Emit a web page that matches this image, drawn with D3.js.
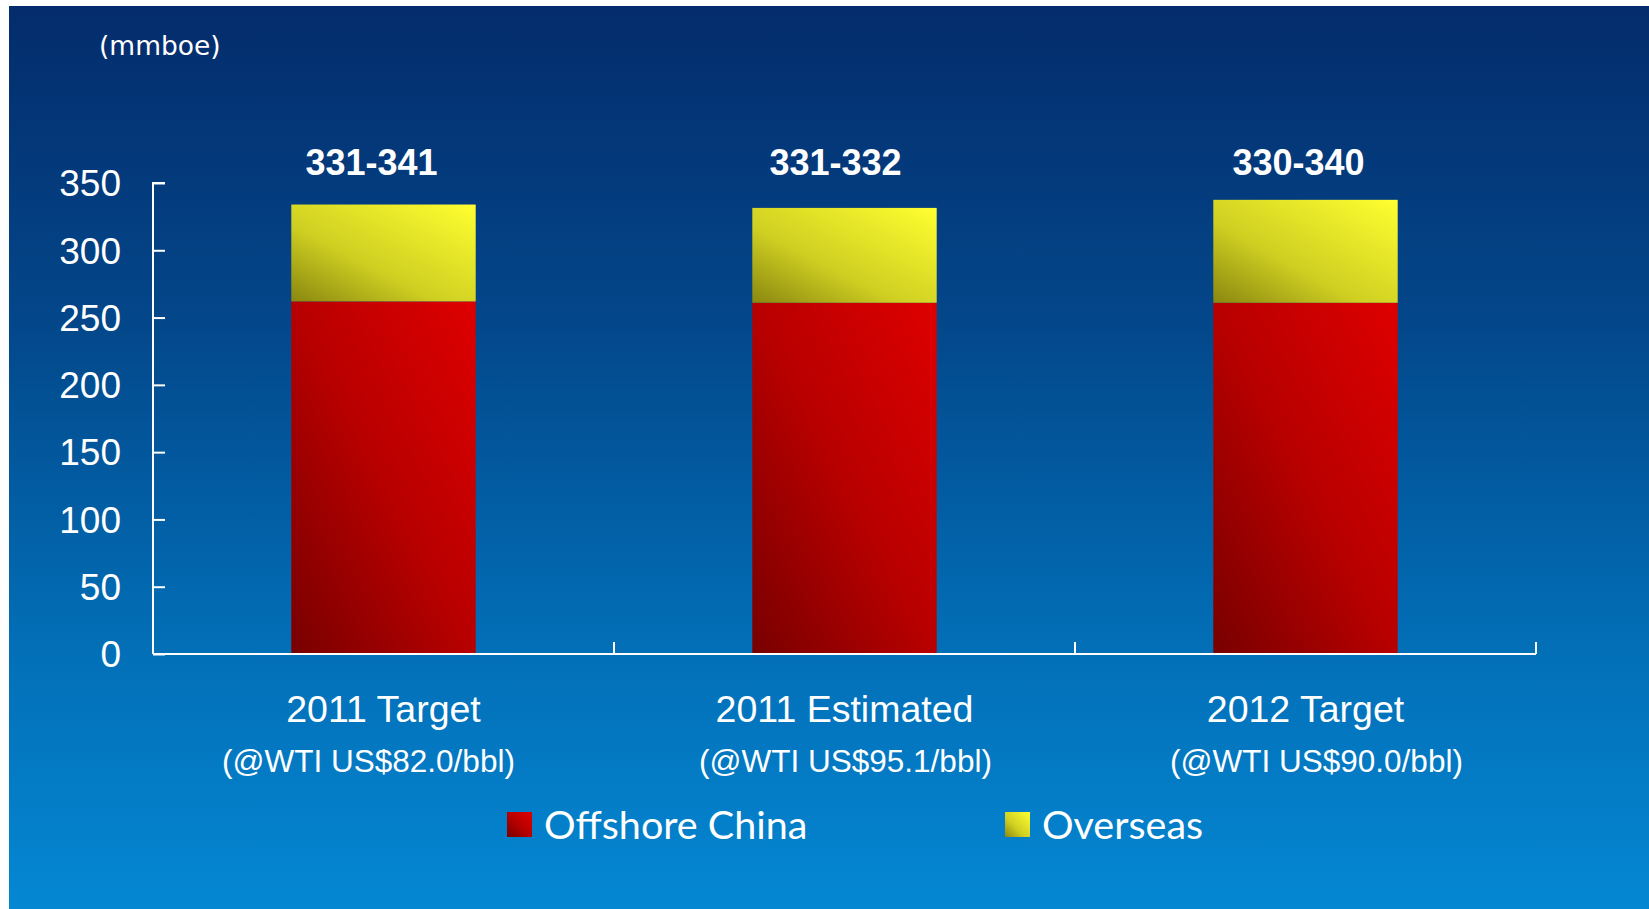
<!DOCTYPE html>
<html>
<head>
<meta charset="utf-8">
<script src="https://cdn.jsdelivr.net/npm/d3@7"></script>
<style>
  html, body { margin: 0; padding: 0; background: #ffffff; overflow: hidden; }
  svg { display: block; }
</style>
</head>
<body>
<svg id="chart" width="1649" height="909"></svg>
<script>
// ---- data ----
const categories = ["2011 Target", "2011 Estimated", "2012 Target"];
const subtitles = ["(@WTI US$82.0/bbl)", "(@WTI US$95.1/bbl)", "(@WTI US$90.0/bbl)"];
const rangeLabels = ["331-341", "331-332", "330-340"];
const offshoreChina = [262, 261, 261];
const overseas = [72, 70.5, 76.5];
const seriesNames = ["Offshore China", "Overseas"];
const yTicks = [0, 50, 100, 150, 200, 250, 300, 350];
const unitLabel = "(mmboe)";

// ---- layout ----
const W = 1649, H = 909;
const svg = d3.select("#chart");
const defs = svg.append("defs");

const bg = defs.append("linearGradient").attr("id", "bg")
  .attr("x1", 0).attr("y1", 0).attr("x2", 0).attr("y2", 1);
bg.append("stop").attr("offset", 0).attr("stop-color", "#042c6c");
bg.append("stop").attr("offset", 0.35).attr("stop-color", "#03478a");
bg.append("stop").attr("offset", 0.7).attr("stop-color", "#026eb6");
bg.append("stop").attr("offset", 1).attr("stop-color", "#0587d2");

function diag(id, stops) {
  const g = defs.append("linearGradient").attr("id", id)
    .attr("x1", 0).attr("y1", 1).attr("x2", 1).attr("y2", 0);
  stops.forEach(s => g.append("stop").attr("offset", s[0]).attr("stop-color", s[1]));
}
diag("gRed", [[0, "#780000"], [0.5, "#b80000"], [1, "#de0000"]]);
diag("gYel", [[0, "#8a870f"], [0.4, "#cfcf22"], [1, "#ffff30"]]);
const fills = ["url(#gRed)", "url(#gYel)"];

svg.append("rect").attr("x", 9).attr("y", 6).attr("width", W - 9).attr("height", H - 6)
  .attr("fill", "url(#bg)");

const x0 = 153, x1 = 1536, yBase = 654, yTop = 183;
const x = d3.scaleBand().domain(categories).range([x0, x1]).padding(0);
const y = d3.scaleLinear().domain([0, 350]).range([yBase, yTop]);
const barW = x.bandwidth() * 0.4;

// stacked data
const table = categories.map((c, i) => ({ cat: c, "Offshore China": offshoreChina[i], "Overseas": overseas[i] }));
const stack = d3.stack().keys(seriesNames)(table);

svg.append("g").selectAll("g").data(stack).join("g")
  .attr("fill", (d, i) => fills[i])
  .selectAll("rect").data(d => d).join("rect")
  .attr("x", d => x(d.data.cat) + (x.bandwidth() - barW) / 2)
  .attr("width", barW)
  .attr("y", d => y(d[1]))
  .attr("height", d => y(d[0]) - y(d[1]));

// y axis
const yAxis = d3.axisRight(y).tickValues(yTicks).tickSize(12).tickFormat("");
const gy = svg.append("g").attr("transform", `translate(${x0},0)`).call(yAxis);
gy.select(".domain").attr("stroke", "#ffffff").attr("stroke-width", 2).attr("d", `M12,${yTop}H0V${yBase}`);
gy.selectAll(".tick line").attr("stroke", "#ffffff").attr("stroke-width", 2);

svg.append("g").selectAll("text").data(yTicks).join("text")
  .attr("x", 121).attr("y", d => y(d)).attr("dy", "0.36em")
  .attr("text-anchor", "end")
  .attr("font-family", "'Liberation Sans', Arial, sans-serif")
  .attr("font-size", 37).attr("fill", "#ffffff")
  .text(d => d);

// x axis (ticks at category boundaries, pointing up)
const boundaries = categories.map(c => x(c) + x.bandwidth());
svg.append("line").attr("x1", x0).attr("x2", x1).attr("y1", yBase).attr("y2", yBase)
  .attr("stroke", "#ffffff").attr("stroke-width", 2);
svg.append("g").selectAll("line").data(boundaries).join("line")
  .attr("x1", d => d).attr("x2", d => d).attr("y1", yBase).attr("y2", yBase - 12)
  .attr("stroke", "#ffffff").attr("stroke-width", 2);

// category labels
const subDx = [-15, 1, 11];
svg.append("g").selectAll("text").data(categories).join("text")
  .attr("x", d => x(d) + x.bandwidth() / 2).attr("y", 722)
  .attr("text-anchor", "middle")
  .attr("font-family", "'Liberation Sans', Arial, sans-serif")
  .attr("font-size", 37.5).attr("fill", "#ffffff")
  .text(d => d);
svg.append("g").selectAll("text").data(subtitles).join("text")
  .attr("x", (d, i) => x(categories[i]) + x.bandwidth() / 2 + subDx[i]).attr("y", 772)
  .attr("text-anchor", "middle")
  .attr("font-family", "'Liberation Sans', Arial, sans-serif")
  .attr("font-size", 31.5).attr("fill", "#ffffff")
  .text(d => d);

// range labels
const lblDx = [-12, -9, -7];
svg.append("g").selectAll("text").data(rangeLabels).join("text")
  .attr("x", (d, i) => x(categories[i]) + x.bandwidth() / 2 + lblDx[i])
  .attr("y", y(350) - 8)
  .attr("text-anchor", "middle")
  .attr("font-family", "'Liberation Sans', Arial, sans-serif")
  .attr("font-weight", "bold")
  .attr("font-size", 36).attr("fill", "#ffffff")
  .text(d => d);

// unit label
svg.append("text").attr("x", 99).attr("y", 55)
  .attr("font-family", "'DejaVu Sans', sans-serif")
  .attr("font-size", 26.5).attr("fill", "#ffffff")
  .text(unitLabel);

// legend
const legendX = [507, 1005];
const lg = svg.append("g").selectAll("g").data(seriesNames).join("g")
  .attr("transform", (d, i) => `translate(${legendX[i]},812)`);
lg.append("rect").attr("width", 25).attr("height", 25).attr("fill", (d, i) => fills[i]);
lg.append("text").attr("x", 37).attr("y", 27)
  .attr("font-family", "Lato, 'Open Sans', sans-serif")
  .attr("font-size", 39.5).attr("fill", "#ffffff")
  .text(d => d);
</script>
</body>
</html>
